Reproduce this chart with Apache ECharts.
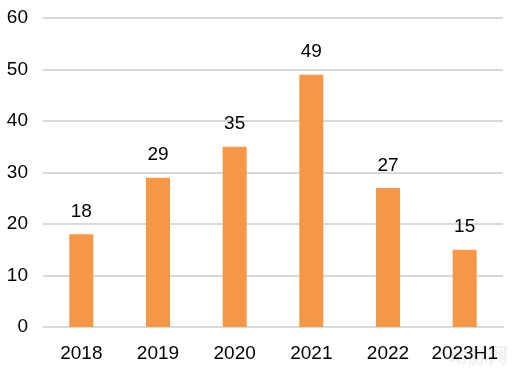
<!DOCTYPE html>
<html><head><meta charset="utf-8">
<script src="https://cdn.jsdelivr.net/npm/echarts@6/dist/echarts.min.js"></script>
<style>html,body{margin:0;padding:0;background:#fff}#c{width:522px;height:375px}</style>
</head><body><div id="c"></div>
<script>
const categories = ['2018','2019','2020','2021','2022','2023H1'];
const values = [18, 29, 35, 49, 27, 15];
const yTicks = [0, 10, 20, 30, 40, 50, 60];

const chart = echarts.init(document.getElementById('c'), null, {renderer:'canvas'});
const font = '"Liberation Sans", "DejaVu Sans", sans-serif';
chart.setOption({
  animation: false,
  grid: {left: 43, right: 19, top: 18, bottom: 48, containLabel: false},
  xAxis: {
    type: 'category', data: categories,
    axisLine: {show: true, lineStyle: {color: '#d9d9d9', width: 2}},
    axisTick: {show: false},
    axisLabel: {color: '#000', fontSize: 19, fontFamily: font, margin: 17, interval: 0, hideOverlap: false}
  },
  yAxis: {
    type: 'value', min: yTicks[0], max: yTicks[yTicks.length-1], interval: 10,
    axisLine: {show: false}, axisTick: {show: false},
    axisLabel: {color: '#000', fontSize: 19, fontFamily: font, margin: 15},
    splitLine: {lineStyle: {color: '#d9d9d9', width: 2}}
  },
  series: [{
    type: 'bar', data: values, barWidth: 24,
    itemStyle: {color: '#F79646'},
    label: {show: true, position: 'top', distance: 13, color: '#000', fontSize: 19, fontFamily: font}
  }],
  graphic: [{
    type: 'text', right: 14, bottom: 10,
    style: {text: '动脉网', fill: 'rgba(200,200,200,0.25)', font: 'bold 20px "Noto Sans CJK SC"'}
  }]
});
</script></body></html>
